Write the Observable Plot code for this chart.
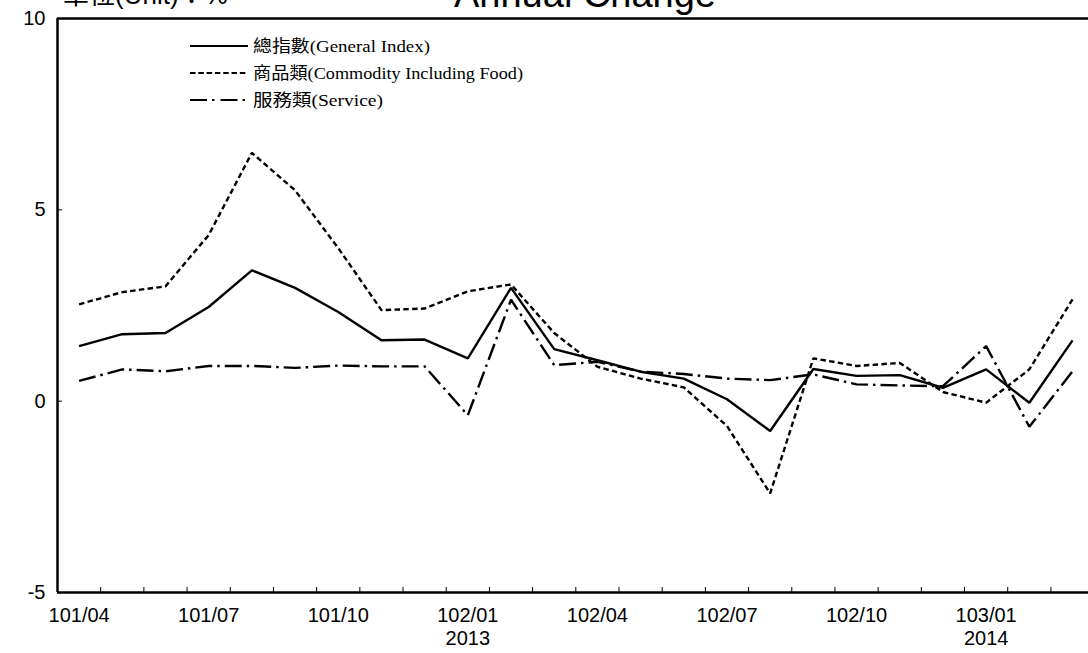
<!DOCTYPE html>
<html>
<head>
<meta charset="utf-8">
<script src="https://cdn.jsdelivr.net/npm/d3@7"></script>
<script src="https://cdn.jsdelivr.net/npm/@observablehq/plot@0.6"></script>
<style>
  body { margin: 0; background: #fff; }
  #wrap { position: relative; width: 1088px; height: 653px; overflow: hidden; background: #fff; }
  #wrap > svg { position: absolute; left: 0; top: 0; }
</style>
</head>
<body>
<div id="wrap"></div>
<script>
// ---- data ----
const months = ["101/04","101/05","101/06","101/07","101/08","101/09","101/10","101/11","101/12",
  "102/01","102/02","102/03","102/04","102/05","102/06","102/07","102/08","102/09","102/10","102/11","102/12",
  "103/01","103/02","103/03"];
const generalIndex = [1.44,1.75,1.78,2.46,3.42,2.96,2.33,1.59,1.61,1.12,2.96,1.36,1.07,0.77,0.59,0.05,-0.78,0.84,0.66,0.68,0.35,0.83,-0.04,1.59];
const commodity    = [2.53,2.85,3.00,4.34,6.49,5.51,4.00,2.38,2.42,2.87,3.05,1.78,0.90,0.59,0.36,-0.65,-2.41,1.12,0.92,1.00,0.24,-0.04,0.83,2.66];
const service      = [0.53,0.83,0.78,0.92,0.92,0.87,0.93,0.91,0.91,-0.37,2.65,0.94,1.03,0.77,0.71,0.59,0.55,0.70,0.44,0.41,0.39,1.44,-0.67,0.78];
const xTickLabels = ["101/04","101/07","101/10","102/01","102/04","102/07","102/10","103/01"];
const westernYear = {"102/01": "2013", "103/01": "2014"};
const yTicks = [-5, 0, 5, 10];
const seriesNames = ["總指數(General Index)", "商品類(Commodity Including Food)", "服務類(Service)"];
const titleText = "Annual Change";
const unitText = "單位(Unit)：%";

// ---- layout ----
const W = 1088, H = 653;
const mL = 57, mR = 0, mT = 18, mB = 61;
const xDomain = [-0.5, 23.37];
const yDomain = [-5, 10];
const pxPerX = (W - mL - mR) / (xDomain[1] - xDomain[0]);
const pxPerY = (H - mT - mB) / (yDomain[1] - yDomain[0]);
const dashes = [null, "5.5,3.3", "17,5,2.5,5"];
const legendWidths = [177, 270, 130];
const seriesValues = [generalIndex, commodity, service];

const toRows = (vals) => vals.map((v, i) => ({i, v}));
const tickIdx = xTickLabels.map(l => months.indexOf(l));
const boundaries = d3.range(0.5, months.length - 1, 1);

const chart = Plot.plot({
  width: W, height: H,
  marginLeft: mL, marginRight: mR, marginTop: mT, marginBottom: mB,
  style: { fontFamily: "'Liberation Sans', Arial, sans-serif", fontSize: "20px", color: "#000", background: "#fff", overflow: "visible" },
  x: { type: "linear", domain: xDomain },
  y: { domain: yDomain },
  marks: [
    Plot.axisX({ticks: tickIdx, tickSize: 0, tickPadding: 13, fontSize: 20, lineHeight: 1.15,
      tickFormat: (d) => { const m = months[d]; return westernYear[m] ? m + "\n" + westernYear[m] : m; },
      label: null}),
    Plot.axisY({ticks: yTicks, tickSize: 0, tickPadding: 12, fontSize: 20, tickFormat: (d) => String(d), label: null}),
    // inward tick marks
    Plot.ruleX(boundaries, {y1: yDomain[0], y2: yDomain[0] + 5 / pxPerY, stroke: "#000", strokeWidth: 1}),
    Plot.ruleY([0, 5], {x1: xDomain[0], x2: xDomain[0] + 5 / pxPerX, stroke: "#000", strokeWidth: 1}),
    // series
    ...seriesValues.map((vals, k) => Plot.line(toRows(vals), {x: "i", y: "v", stroke: "#000", strokeWidth: 2.4,
      strokeDasharray: dashes[k], strokeLinejoin: "miter", strokeLinecap: "butt"})),
    // frame
    Plot.ruleY([yDomain[0], yDomain[1]], {stroke: "#000", strokeWidth: 2.5}),
    Plot.ruleX([xDomain[0]], {stroke: "#000", strokeWidth: 2.5})
  ]
});
document.getElementById("wrap").appendChild(chart);

// ---- overlay texts: title, unit, legend ----
const ov = d3.select("#wrap").append("svg")
  .attr("width", W).attr("height", H)
  .style("pointer-events", "none");
ov.append("text").attr("x", 585).attr("y", 7).attr("text-anchor", "middle")
  .attr("font-family", "'Liberation Sans', Arial, sans-serif").attr("font-size", 38)
  .text(titleText);
ov.append("text").attr("x", 63).attr("y", 4)
  .attr("font-family", "'Liberation Sans', Arial, 'Noto Sans CJK TC', sans-serif").attr("font-size", 26)
  .text(unitText);

const lg = ov.append("g").attr("transform", "translate(190,46)");
seriesNames.forEach((name, k) => {
  const y = k * 27;
  lg.append("line").attr("x1", 0).attr("x2", 58).attr("y1", y).attr("y2", y)
    .attr("stroke", "#000").attr("stroke-width", 2.2)
    .attr("stroke-dasharray", dashes[k] ? (k === 2 ? "17,5,2.5,6" : "5.5,2.8") : null);
  lg.append("text").attr("x", 63).attr("y", y).attr("dy", "0.35em")
    .attr("font-family", "'Liberation Serif', 'Times New Roman', 'Noto Sans CJK TC', serif")
    .attr("font-size", 17)
    .attr("textLength", legendWidths[k]).attr("lengthAdjust", "spacingAndGlyphs")
    .text(name);
});
</script>
</body>
</html>
